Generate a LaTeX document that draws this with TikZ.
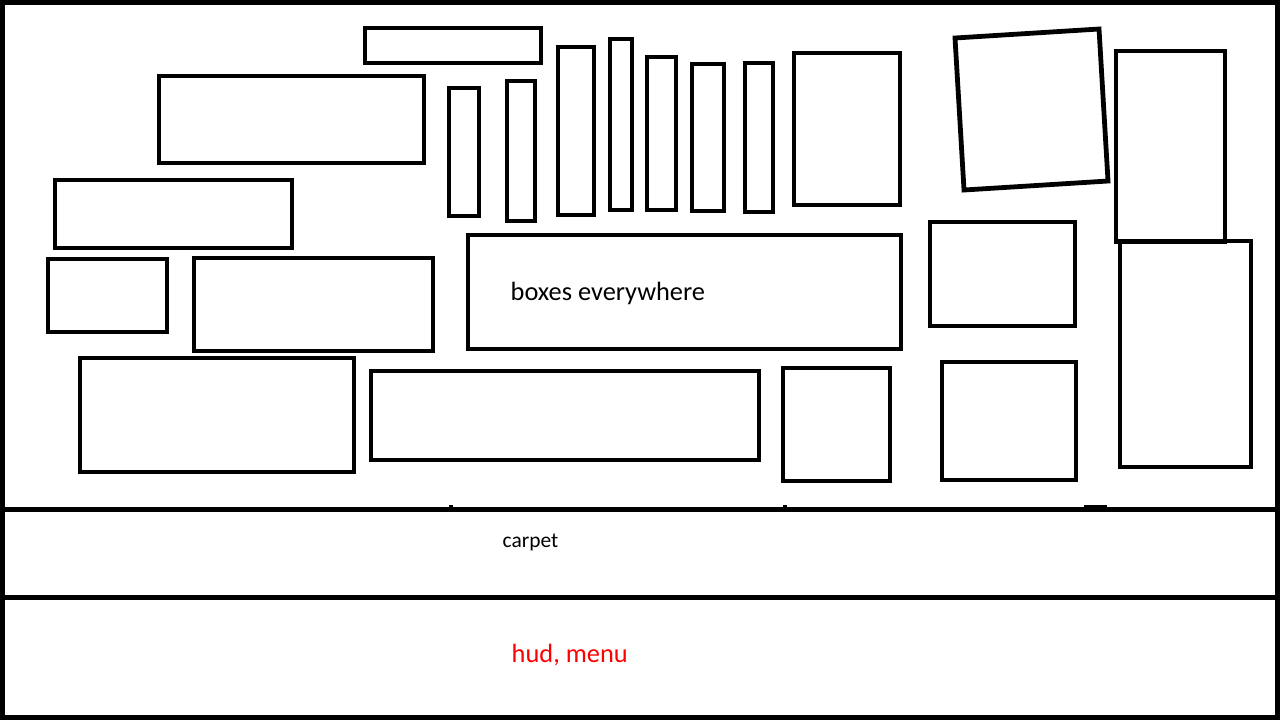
\documentclass[tikz,border=0pt]{standalone}
\usepackage{fontspec}
\setmainfont{Carlito}
\begin{document}
\begin{tikzpicture}[x=0.01cm,y=-0.01cm,
  box/.style={draw=black,line width=1.36pt,line join=miter},
  frame/.style={draw=black,line width=1.42pt},
  lbl/.style={anchor=base west,inner sep=0pt,text=black},
  tick/.style={fill=black,draw=none}]
\useasboundingbox (0,0) rectangle (1280,720);
% outer frame and bands
\draw[frame] (2.5,2.5) rectangle (1277.5,717.5);
\draw[frame] (0,509.5) coordinate (c1) -- (1280,509.5) coordinate (c2);
\draw[frame] (0,597.5) coordinate (h1) -- (1280,597.5) coordinate (h2);
% small marks on the carpet line
\fill[tick] (449,505) rectangle (453,509);
\fill[tick] (783,505) rectangle (787,509);
\fill[tick] (1084,505) rectangle (1107,509);
% boxes
\draw[box] (365,28) rectangle (541,63);
\draw[box] (159,76) rectangle (424,163);
\draw[box] (55,180) rectangle (292,248);
\draw[box] (48,259) rectangle (167,332);
\draw[box] (194,258) rectangle (433,351);
\draw[box] (80,358) rectangle (354,472);
\draw[box] (371,371) rectangle (759,460);
\draw[box] (468,235) rectangle (901,349);
\draw[box] (783,368) rectangle (890,481);
\draw[box] (930,222) rectangle (1075,326);
\draw[box] (942,362) rectangle (1076,480);
\draw[box] (1120,241) rectangle (1251,467);
\draw[box] (1116,51) rectangle (1225,242);
\draw[box] (955,38) -- (1099,29) -- (1108,181) -- (964,190) -- cycle;
\draw[box] (794,53) rectangle (900,205);
% thin bars
\draw[box] (449,88) rectangle (479,216);
\draw[box] (507,81) rectangle (535,221);
\draw[box] (558,47) rectangle (594,215);
\draw[box] (610,39) rectangle (632,210);
\draw[box] (647,57) rectangle (676,210);
\draw[box] (692,64) rectangle (724,211);
\draw[box] (745,63) rectangle (773,212);
% labels
\node[lbl,font=\fontsize{7.5pt}{9pt}\selectfont] (t1) at (510,300) {boxes everywhere};
\node[lbl,font=\fontsize{6.1pt}{7.3pt}\selectfont] (t2) at (502,547) {carpet};
\node[lbl,font=\fontsize{7.5pt}{9pt}\selectfont,text=red] (t3) at (511,662) {hud, menu};
\end{tikzpicture}
\end{document}
